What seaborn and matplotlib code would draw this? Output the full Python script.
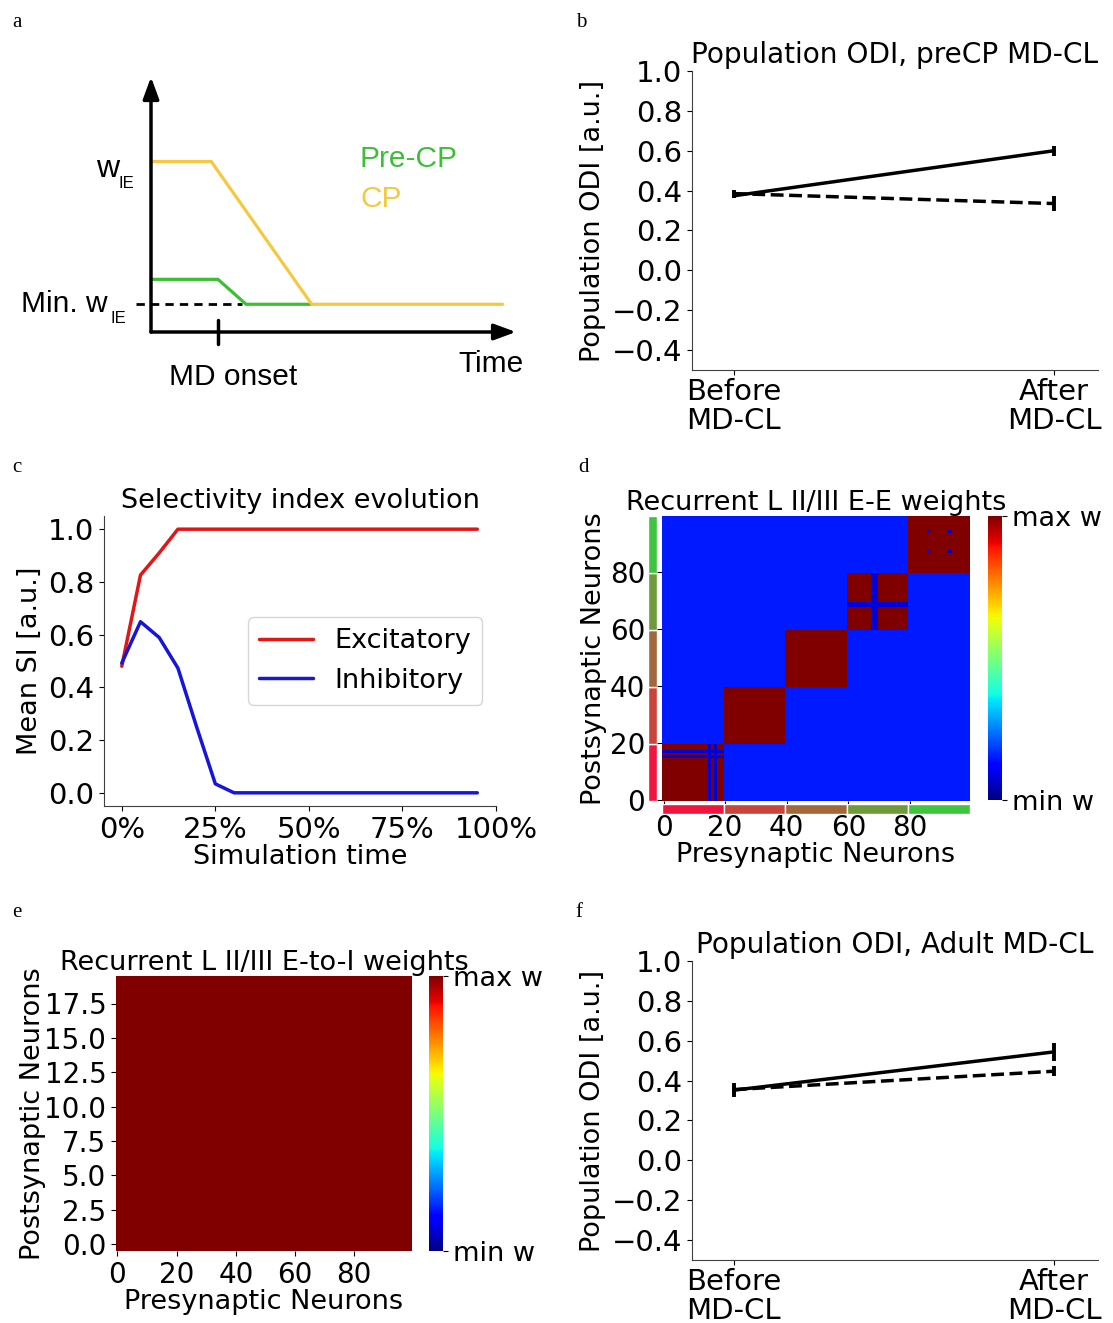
import numpy as np
import pandas as pd
import matplotlib
matplotlib.use("Agg")
import matplotlib.pyplot as plt
import seaborn as sns

# ---------------- data ----------------
# panel a (schematic, arbitrary units)
sch_time_cp = [0.0, 0.9, 2.4, 5.25]
sch_w_cp = [6.15, 6.15, 1.0, 1.0]
sch_time_pre = [0.0, 1.0, 1.42, 2.4]
sch_w_pre = [1.9, 1.9, 1.0, 1.0]
sch_min_line_t = [-0.22, 1.36]
sch_min_w = 1.0
sch_md_onset = 1.0
sch_t_max = 5.45
sch_w_max = 9.2

# panels b / f
odi_conditions = ["Before\nMD-CL", "After\nMD-CL"]
odi_yticks = [-0.4, -0.2, 0.0, 0.2, 0.4, 0.6, 0.8, 1.0]
precp_solid = [0.374, 0.600]
precp_solid_err = [0.012, 0.025]
precp_dashed = [0.385, 0.335]
precp_dashed_err = [0.02, 0.037]
adult_solid = [0.352, 0.544]
adult_solid_err = [0.035, 0.045]
adult_dashed = [0.355, 0.447]
adult_dashed_err = [0.02, 0.025]

# panel c
sim_time_pct = [0, 5, 10, 15, 20, 25, 30, 35, 40, 45, 50, 55, 60, 65, 70, 75, 80, 85, 90, 95]
si_exc = [0.48, 0.826, 0.91, 1.0, 1.0, 1.0, 1.0, 1.0, 1.0, 1.0,
          1.0, 1.0, 1.0, 1.0, 1.0, 1.0, 1.0, 1.0, 1.0, 1.0]
si_inh = [0.492, 0.649, 0.589, 0.473, 0.25, 0.034, 0.0, 0.0, 0.0, 0.0,
          0.0, 0.0, 0.0, 0.0, 0.0, 0.0, 0.0, 0.0, 0.0, 0.0]
time_ticks = [0, 25, 50, 75, 100]
time_ticklabels = ["0%", "25%", "50%", "75%", "100%"]

# panel d
group_edges = [0, 20, 40, 60, 80, 100]
group_colors = ["#f0153e", "#c9443a", "#a2683c", "#6e9a3c", "#3ec43e"]
ee_base_weight = 0.15
ee_assembly_weight = 1.0
ee_gap_weight = 0.08
ee_gap_group = [0, 0, 3, 3]
ee_gap_index = [15, 17, 68, 69]
ee_spot_rows = [87, 94]
ee_spot_cols = [86, 93]
ee_spot_weight = 0.08
neuron_ticks = [0, 20, 40, 60, 80]

# panel e
n_inh = 20
ei_weight = 1.0
ei_yticks = [0.0, 2.5, 5.0, 7.5, 10.0, 12.5, 15.0, 17.5]

# ---------------- style ----------------
sns.set_style("ticks", {"axes.edgecolor": "0.25", "xtick.color": "black",
                        "ytick.color": "black", "text.color": "black",
                        "axes.labelcolor": "black"})
plt.rcParams["font.family"] = ["DejaVu Sans"]
plt.rcParams["xtick.major.size"] = 3.5
plt.rcParams["ytick.major.size"] = 3.5
plt.rcParams["xtick.major.width"] = 0.8
plt.rcParams["ytick.major.width"] = 0.8
plt.rcParams["axes.linewidth"] = 0.8

W, H = 1113, 1323
fig = plt.figure(figsize=(W / 100, H / 100), dpi=100)


def box(l, t, r, b):
    return [l / W, 1 - b / H, (r - l) / W, (b - t) / H]


def fxy(x, y):
    return x / W, 1 - y / H


FS = 19.5
TFS = 21

# panel letters
for letter, (lx, ly) in zip("abcdef", [(12, 27), (576, 27), (12, 472), (578, 472), (12, 917), (575, 917)]):
    fig.text(*fxy(lx, ly), letter, family="Liberation Serif", fontsize=15, va="baseline")

# ---------------- panel a ----------------
yellow = "#f5c842"
green = "#3cbf34"
ax_a = fig.add_axes(box(151, 77, 516, 332))
ax_a.set_xlim(0, sch_t_max)
ax_a.set_ylim(0, sch_w_max)
ax_a.axis("off")
arrow = dict(arrowstyle="-|>,head_length=0.6,head_width=0.22", lw=2.5, color="k",
             mutation_scale=22, shrinkA=0, shrinkB=0)
ax_a.annotate("", xy=(sch_t_max, 0), xytext=(0, 0), arrowprops=arrow, annotation_clip=False)
ax_a.annotate("", xy=(0, sch_w_max), xytext=(0, 0), arrowprops=arrow, annotation_clip=False)
ax_a.plot(sch_min_line_t, [sch_min_w, sch_min_w], color="k", lw=2, dashes=(3, 2.2), clip_on=False)
ax_a.plot(sch_time_pre, sch_w_pre, color=green, lw=2.3, clip_on=False)
ax_a.plot(sch_time_cp, sch_w_cp, color=yellow, lw=2.3, clip_on=False)
ax_a.plot([sch_md_onset, sch_md_onset], [-0.42, 0.42], color="k", lw=2.5, clip_on=False)
afont = dict(family="Liberation Sans", va="baseline")
fig.text(*fxy(96, 177), "w", fontsize=23, **afont)
fig.text(*fxy(118, 188), "IE", fontsize=12, **afont)
fig.text(*fxy(21, 312), "Min. w", fontsize=21.5, **afont)
fig.text(*fxy(110, 323), "IE", fontsize=12, **afont)
fig.text(*fxy(233, 385), "MD onset", fontsize=21.5, ha="center", **afont)
fig.text(*fxy(491, 372), "Time", fontsize=21.5, ha="center", **afont)
fig.text(*fxy(360, 167), "Pre-CP", fontsize=21.5, color=green, **afont)
fig.text(*fxy(360, 207), "CP", fontsize=21.5, color=yellow, **afont)


# ---------------- panels b, f ----------------
def odi_panel(rect, title, solid, solid_err, dashed, dashed_err):
    ax = fig.add_axes(box(*rect))
    x = np.arange(len(odi_conditions))
    sns.lineplot(x=x, y=solid, color="k", lw=2.5, ax=ax)
    sns.lineplot(x=x, y=dashed, color="k", lw=2.5, ax=ax, linestyle="--")
    ax.errorbar(x, solid, yerr=solid_err, fmt="none", ecolor="k", elinewidth=2.8, capsize=0)
    ax.errorbar(x, dashed, yerr=dashed_err, fmt="none", ecolor="k", elinewidth=2.8, capsize=0)
    ax.set_xlim(-0.131, 1.1375)
    ax.set_ylim(-0.5, 1.0)
    ax.set_yticks(odi_yticks)
    ax.set_xticks(x)
    ax.set_xticklabels(odi_conditions, linespacing=1.05)
    ax.tick_params(labelsize=TFS)
    ax.tick_params(axis="x", pad=2)
    sns.despine(ax=ax)
    ax.set_title(title, fontsize=20.2)
    ax.set_ylabel("Population ODI [a.u.]", fontsize=FS)
    return ax


odi_panel((692, 71, 1098, 370), "Population ODI, preCP MD-CL",
          precp_solid, precp_solid_err, precp_dashed, precp_dashed_err)
odi_panel((692, 961, 1098, 1260), "Population ODI, Adult MD-CL",
          adult_solid, adult_solid_err, adult_dashed, adult_dashed_err)

# ---------------- panel c ----------------
ax_c = fig.add_axes(box(104, 516, 496, 806))
df_si = pd.DataFrame({
    "t": sim_time_pct + sim_time_pct,
    "SI": si_exc + si_inh,
    "Population": ["Excitatory"] * len(si_exc) + ["Inhibitory"] * len(si_inh),
})
sns.lineplot(data=df_si, x="t", y="SI", hue="Population",
             palette=["#e31616", "#1616d8"], lw=2.5, ax=ax_c)
ax_c.set_xlim(-4.75, 100)
ax_c.set_ylim(-0.05, 1.05)
ax_c.set_xticks(time_ticks)
ax_c.set_xticklabels(time_ticklabels)
ax_c.set_yticks([0.0, 0.2, 0.4, 0.6, 0.8, 1.0])
ax_c.tick_params(labelsize=TFS)
sns.despine(ax=ax_c)
ax_c.set_title("Selectivity index evolution", fontsize=FS)
ax_c.set_xlabel("Simulation time", fontsize=FS, labelpad=0)
ax_c.set_ylabel("Mean SI [a.u.]", fontsize=FS)
sns.move_legend(ax_c, "center right", title=None, fontsize=FS, frameon=True)

# ---------------- panel d ----------------
n_exc = group_edges[-1]
ee = np.full((n_exc, n_exc), ee_base_weight)
for s, e in zip(group_edges[:-1], group_edges[1:]):
    ee[s:e, s:e] = ee_assembly_weight
for g, idx in zip(ee_gap_group, ee_gap_index):
    s, e = group_edges[g], group_edges[g + 1]
    ee[idx, s:e] = ee_gap_weight
    ee[s:e, idx] = ee_gap_weight
for r in ee_spot_rows:
    for c in ee_spot_cols:
        ee[r, c] = ee_spot_weight

ax_d = fig.add_axes(box(662, 516, 970, 801))
cax_d = fig.add_axes(box(988, 516, 1002, 800))
sns.heatmap(ee, cmap="jet", vmin=0, vmax=1, ax=ax_d, cbar_ax=cax_d,
            xticklabels=False, yticklabels=False, rasterized=True)
ax_d.set_xlim(0, n_exc)
ax_d.set_ylim(0, n_exc)
ax_d.set_xticks(np.array(neuron_ticks) + 0.5)
ax_d.set_xticklabels([str(t) for t in neuron_ticks], rotation=0)
ax_d.set_yticks(np.array(neuron_ticks) + 0.5)
ax_d.set_yticklabels([str(t) for t in neuron_ticks], rotation=0)
ax_d.tick_params(axis="y", labelsize=TFS - 1, pad=8.6)
ax_d.tick_params(axis="x", labelsize=TFS - 1, pad=6)
ax_d.set_title("Recurrent L II/III E-E weights", fontsize=FS, pad=4)
ax_d.set_xlabel("Presynaptic Neurons", fontsize=FS, labelpad=0)
ax_d.set_ylabel("Postsynaptic Neurons", fontsize=FS, labelpad=2)
cb_d = ax_d.collections[0].colorbar
cb_d.set_ticks([0, 1])
cb_d.set_ticklabels(["min w", "max w"])
cb_d.ax.tick_params(labelsize=FS)

ax_ls = fig.add_axes(box(648, 516, 657, 801))
ax_bs = fig.add_axes(box(662, 804, 970, 814))
for s, e, col in zip(group_edges[:-1], group_edges[1:], group_colors):
    ax_ls.barh(s, 1, height=e - s, align="edge", color=col, edgecolor="white", lw=1)
    ax_bs.bar(s, 1, width=e - s, align="edge", color=col, edgecolor="white", lw=1)
ax_ls.set_ylim(0, n_exc)
ax_ls.set_xlim(0, 1)
ax_ls.axis("off")
ax_bs.set_xlim(0, n_exc)
ax_bs.set_ylim(0, 1)
ax_bs.axis("off")

# ---------------- panel e ----------------
ei = np.full((n_inh, n_exc), ei_weight)
ax_e = fig.add_axes(box(116, 976, 412, 1251))
cax_e = fig.add_axes(box(429, 976, 443, 1251))
sns.heatmap(ei, cmap="jet", vmin=0, vmax=1, ax=ax_e, cbar_ax=cax_e,
            xticklabels=False, yticklabels=False, rasterized=True)
ax_e.set_xlim(0, n_exc)
ax_e.set_ylim(0, n_inh)
ax_e.set_xticks(np.array(neuron_ticks) + 0.5)
ax_e.set_xticklabels([str(t) for t in neuron_ticks], rotation=0)
ax_e.set_yticks(np.array(ei_yticks) + 0.5)
ax_e.set_yticklabels([f"{t:.1f}" for t in ei_yticks], rotation=0)
ax_e.tick_params(labelsize=TFS - 1)
ax_e.set_title("Recurrent L II/III E-to-I weights", fontsize=FS, pad=2)
ax_e.set_xlabel("Presynaptic Neurons", fontsize=FS, labelpad=0)
ax_e.set_ylabel("Postsynaptic Neurons", fontsize=FS, labelpad=-1)
cb_e = ax_e.collections[0].colorbar
cb_e.set_ticks([0, 1])
cb_e.set_ticklabels(["min w", "max w"])
cb_e.ax.tick_params(labelsize=FS)

fig.savefig("out.png", dpi=100)
